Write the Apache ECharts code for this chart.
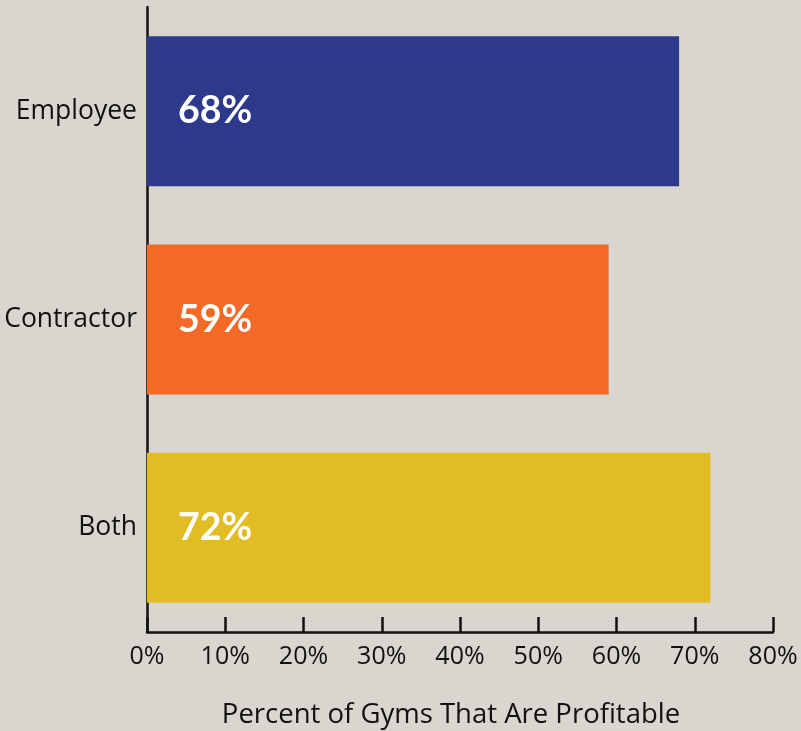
<!DOCTYPE html>
<html>
<head>
<meta charset="utf-8">
<style>
  html, body { margin: 0; padding: 0; background: #d9d5cf; }
  #chart { width: 801px; height: 731px; }
</style>
<script src="https://cdn.jsdelivr.net/npm/echarts@6/dist/echarts.min.js"></script>
</head>
<body>
<div id="chart"></div>
<script>
// Share of profitable gyms by staffing model
const categories = ['Employee', 'Contractor', 'Both'];
const values = [68, 59, 72];
const barColors = ['#2d3a8c', '#f26a25', '#e1bc24'];
const axisTitle = 'Percent of Gyms That Are Profitable';

const chart = echarts.init(document.getElementById('chart'), null, { renderer: 'canvas' });

chart.setOption({
  backgroundColor: '#d9d5cf',
  animation: false,
  grid: {
    left: 147, right: 28, top: 7, bottom: 99,
    containLabel: false,
    outerBoundsMode: 'none'
  },
  xAxis: {
    type: 'value',
    min: 0,
    max: 80,
    interval: 10,
    splitLine: { show: false },
    axisLine: { show: true, lineStyle: { color: '#111', width: 2.5 } },
    axisTick: { show: true, inside: true, length: 15, lineStyle: { color: '#111', width: 2.5 } },
    axisLabel: {
      formatter: '{value}%',
      color: '#111',
      fontFamily: 'Open Sans',
      fontSize: 25,
      margin: 12,
      showMaxLabel: true,
      showMinLabel: true
    },
    name: axisTitle,
    nameLocation: 'middle',
    nameGap: 69,
    nameTextStyle: {
      color: '#111',
      fontFamily: 'Open Sans',
      fontSize: 27.5,
      padding: [0, 18, 0, 0]
    }
  },
  yAxis: {
    type: 'category',
    data: categories,
    inverse: true,
    axisLine: { show: true, lineStyle: { color: '#111', width: 2.5 } },
    axisTick: { show: false },
    axisLabel: {
      color: '#111',
      fontFamily: 'Open Sans',
      fontSize: 26.5,
      margin: 10,
      padding: [5, 0, 0, 0]
    }
  },
  series: [{
    type: 'bar',
    data: values.map((v, i) => ({ value: v, itemStyle: { color: barColors[i] } })),
    barCategoryGap: '28%',
    label: {
      show: true,
      position: 'insideLeft',
      distance: 31,
      formatter: '{c}%',
      color: '#ffffff',
      fontFamily: 'Lato',
      fontWeight: 'bold',
      fontSize: 37.5
    }
  }]
});
</script>
</body>
</html>
